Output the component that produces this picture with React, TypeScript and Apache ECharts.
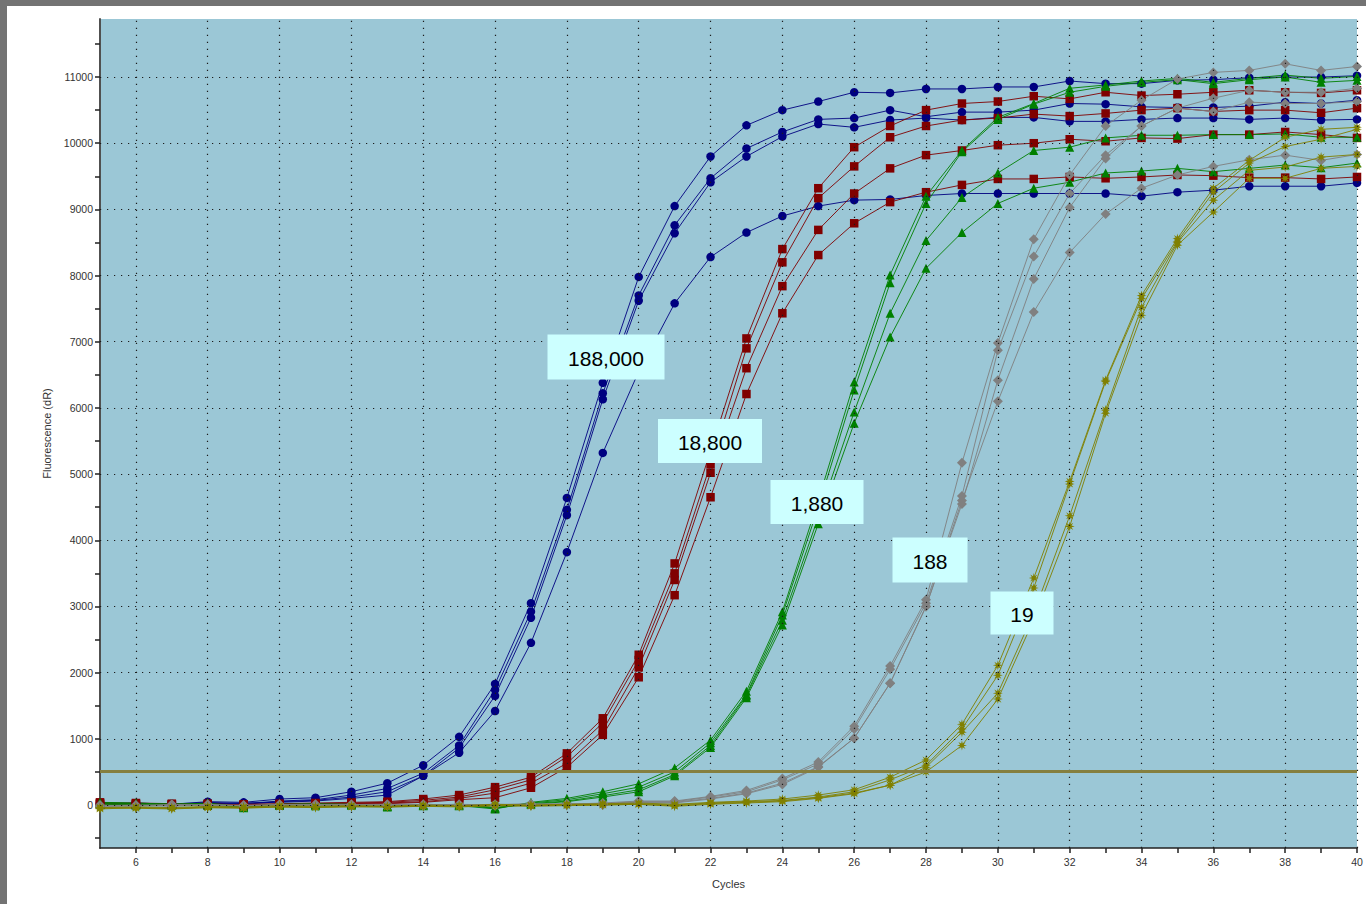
import React, { useEffect, useRef } from "react";
import * as echarts from "echarts";

// ---------- data ----------
const cycles = [
  5, 6, 7, 8, 9, 10, 11, 12, 13, 14, 15, 16, 17, 18, 19, 20, 21, 22,
  23, 24, 25, 26, 27, 28, 29, 30, 31, 32, 33, 34, 35, 36, 37, 38, 39, 40,
];

// 188,000 copies (blue)
const blue1 = [
  20, 30, 10, 50, 40, 90, 110, 200, 330,
  600, 1030, 1830, 3050, 4640, 6380, 7980, 9050, 9800,
  10270, 10500, 10630, 10770, 10760, 10820, 10820, 10850, 10850,
  10940, 10900, 10900, 10950, 10960, 10990, 11000, 11000, 11020,
];
const blue2 = [
  10, 20, 0, 40, 20, 60, 80, 150, 250,
  480, 900, 1740, 2920, 4460, 6220, 7700, 8760, 9470,
  9920, 10170, 10360, 10380, 10500, 10400, 10470, 10470, 10500,
  10600, 10590, 10550, 10540, 10540, 10560, 10620, 10600, 10650,
];
const blue3 = [
  30, 10, 20, 30, 10, 50, 70, 120, 200,
  440, 860, 1650, 2830, 4380, 6130, 7620, 8640, 9410,
  9800, 10100, 10290, 10240, 10350, 10380, 10350, 10390, 10390,
  10330, 10330, 10360, 10380, 10380, 10360, 10380, 10350, 10360,
];
const blue4 = [
  0, 20, 10, 20, 30, 40, 60, 100, 150,
  440, 790, 1420, 2450, 3820, 5320, 6550, 7580, 8280,
  8650, 8900, 9050, 9140, 9150, 9210, 9240, 9240, 9240,
  9240, 9240, 9200, 9260, 9290, 9350, 9350, 9350, 9400,
];

// 18,800 copies (red)
const red1 = [
  40, 20, 10, 0, 10, 20, 30, 40, 50,
  90, 150, 270, 420, 780, 1310, 2270, 3650, 5350,
  7050, 8400, 9320, 9940, 10260, 10500, 10600, 10630, 10710,
  10670, 10770, 10720, 10740, 10770, 10800, 10770, 10760, 10800,
];
const red2 = [
  30, 10, 0, -10, 0, 10, 20, 30, 40,
  70, 120, 230, 380, 730, 1240, 2190, 3500, 5150,
  6900, 8200, 9170, 9650, 10090, 10260, 10350, 10380, 10440,
  10410, 10450, 10500, 10530, 10480, 10500, 10500, 10460, 10530,
];
const red3 = [
  20, 30, 20, 10, -10, 0, 10, 20, 30,
  50, 100, 180, 330, 630, 1130, 2080, 3400, 5020,
  6600, 7840, 8690, 9240, 9620, 9820, 9890, 9970, 10000,
  10060, 10030, 10080, 10070, 10130, 10130, 10170, 10130, 10080,
];
const red4 = [
  10, 0, 10, 20, 0, -10, 0, 10, 20,
  40, 80, 110, 260, 570, 1060, 1930, 3170, 4650,
  6210, 7430, 8310, 8790, 9110, 9260, 9370, 9460, 9460,
  9490, 9470, 9490, 9520, 9510, 9480, 9480, 9460, 9490,
];

// 1,880 copies (green)
const green1 = [
  40, 30, 10, 20, -40, 10, 20, 10, -30,
  0, -10, -60, 40, 100, 200, 320, 560, 980,
  1720, 2920, 4600, 6390, 8010, 9200, 9890, 10390, 10600,
  10830, 10880, 10940, 10980, 10920, 10980, 11030, 10980, 11010,
];
const green2 = [
  30, 20, 0, 30, -30, 0, 10, 0, -20,
  10, 0, -50, 30, 80, 170, 270, 500, 940,
  1670, 2870, 4500, 6270, 7890, 9090, 9870, 10360, 10590,
  10770, 10860, 10920, 10960, 10900, 10960, 11000, 10920, 10950,
];
const green3 = [
  20, 10, 20, 10, -20, 10, 0, 10, -10,
  0, 10, -40, 20, 60, 140, 230, 460, 900,
  1650, 2790, 4350, 5940, 7430, 8530, 9180, 9550, 9890,
  9940, 10080, 10120, 10120, 10130, 10130, 10140, 10090, 10090,
];
const green4 = [
  10, 0, 10, 0, -30, 0, -10, 0, -20,
  -10, 0, -40, 10, 50, 120, 200, 440, 870,
  1620, 2720, 4250, 5770, 7070, 8110, 8650, 9090, 9320,
  9410, 9550, 9580, 9620, 9570, 9620, 9670, 9630, 9700,
];

// 188 copies (gray)
const gray1 = [
  -20, -10, 10, 0, -20, 0, 10, -10, 0,
  -10, 10, 0, 20, 10, 30, 60, 60, 130,
  220, 400, 650, 1190, 2100, 3100, 5170, 6980, 8550,
  9520, 10260, 10650, 10970, 11070, 11100, 11200, 11100, 11160,
];
const gray2 = [
  -10, 0, -10, 10, -10, 10, 0, 0, 10,
  0, 0, 10, 10, 20, 20, 50, 50, 120,
  200, 380, 620, 1150, 2050, 3050, 4670, 6870, 8290,
  9240, 9820, 10260, 10530, 10680, 10800, 10770, 10770, 10830,
];
const gray3 = [
  0, -20, 0, -10, 0, -10, 0, 10, -10,
  10, 0, -10, 0, 0, 10, 40, 40, 100,
  180, 330, 580, 1010, 1840, 3000, 4550, 6420, 7950,
  9030, 9770, 10260, 10530, 10480, 10620, 10600, 10600, 10630,
];
const gray4 = [
  -30, -10, -20, 0, -10, 0, -10, 0, 0,
  -10, -10, 0, 0, 10, 0, 30, 30, 90,
  170, 310, 570, 1010, 1840, 3000, 4600, 6100, 7450,
  8350, 8930, 9320, 9520, 9650, 9750, 9820, 9740, 9830,
];

// 19 copies (olive)
const olive1 = [
  -40, -30, -40, -20, -30, -10, -20, -10, -20,
  0, -10, 10, 0, 10, 20, 30, 10, 40,
  60, 90, 150, 230, 420, 680, 1220, 2110, 3430,
  4890, 6420, 7700, 8560, 9320, 9740, 10090, 10210, 10240,
];
const olive2 = [
  -50, -40, -50, -30, -40, -20, -30, -20, -20,
  -10, -20, 0, -10, 0, 10, 20, 0, 30,
  50, 70, 120, 200, 380, 600, 1150, 1960, 3280,
  4850, 6400, 7650, 8520, 9260, 9700, 9950, 10060, 10210,
];
const olive3 = [
  -60, -40, -50, -40, -40, -30, -30, -20, -30,
  -20, -20, -10, -10, 0, 0, 10, -10, 20,
  40, 60, 110, 180, 300, 570, 1100, 1690, 2900,
  4370, 5970, 7520, 8500, 9140, 9590, 9640, 9790, 9830,
];
const olive4 = [
  -40, -50, -60, -40, -50, -30, -40, -30, -30,
  -20, -30, -10, -20, -10, 0, 10, -20, 10,
  30, 50, 100, 170, 300, 500, 900, 1600, 2800,
  4210, 5920, 7400, 8460, 8960, 9470, 9470, 9620, 9650,
];

const threshold = 515;

const xTickValues = [
  6, 7, 8, 9, 10, 11, 12, 13, 14, 15, 16, 17, 18, 19, 20, 21, 22, 23,
  24, 25, 26, 27, 28, 29, 30, 31, 32, 33, 34, 35, 36, 37, 38, 39, 40,
];
const xLabelValues = [
  6, 8, 10, 12, 14, 16, 18, 20, 22, 24, 26, 28, 30, 32, 34, 36, 38, 40,
];
const yTickValues = [
  -500, 0, 500, 1000, 1500, 2000, 2500, 3000, 3500, 4000, 4500, 5000,
  5500, 6000, 6500, 7000, 7500, 8000, 8500, 9000, 9500, 10000, 10500,
  11000, 11500,
];
const yLabelValues = [
  0, 1000, 2000, 3000, 4000, 5000, 6000, 7000, 8000, 9000, 10000, 11000,
];

const groupLabels = ["188,000", "18,800", "1,880", "188", "19"];

// ---------- styling / layout ----------
const STAR =
  "path://M10,0L11.53,6.3L17.07,2.93L13.7,8.47L20,10L13.7,11.53L17.07,17.07L11.53,13.7L10,20L8.47,13.7L2.93,17.07L6.3,11.53L0,10L6.3,8.47L2.93,2.93L8.47,6.3Z";

const groups = [
  { color: "#000080", symbol: "circle", size: 8.5, curves: [blue1, blue2, blue3, blue4] },
  { color: "#800000", symbol: "rect", size: 8.5, curves: [red1, red2, red3, red4] },
  { color: "#008000", symbol: "triangle", size: 9, curves: [green1, green2, green3, green4] },
  { color: "#808080", symbol: "diamond", size: 10, curves: [gray1, gray2, gray3, gray4] },
  { color: "#808000", symbol: STAR, size: 10, curves: [olive1, olive2, olive3, olive4] },
];

const labelBoxes = [
  { cx: 606, cy: 357, w: 117, h: 45 },
  { cx: 710, cy: 441, w: 104, h: 44 },
  { cx: 817, cy: 502, w: 93, h: 44 },
  { cx: 930, cy: 560, w: 75, h: 45 },
  { cx: 1022, cy: 613, w: 63, h: 43 },
];

const FONT = "'Liberation Sans', Arial, sans-serif";

export default function App() {
  const ref = useRef<HTMLDivElement>(null);

  useEffect(() => {
    if (!ref.current) return;
    const chart = echarts.init(ref.current, null, { renderer: "svg" });

    const series: any[] = [];

    // gridlines through the axes' own scales
    series.push({
      type: "line",
      name: "grid",
      data: [],
      silent: true,
      z: 1,
      markLine: {
        silent: true,
        animation: false,
        symbol: ["none", "none"],
        label: { show: false },
        lineStyle: { color: "#1c1c1c", width: 1.2, type: [1.2, 5.8] },
        emphasis: { disabled: true },
        data: [
          ...xLabelValues.map((v) => ({ xAxis: v })),
          ...yLabelValues.map((v) => ({ yAxis: v })),
        ],
      },
    });

    groups.forEach((g, gi) => {
      g.curves.forEach((curve, ci) => {
        series.push({
          type: "line",
          name: groupLabels[gi] + "-" + ci,
          data: cycles.map((c, i) => [c, curve[i]]),
          symbol: g.symbol,
          symbolSize: g.size,
          showSymbol: true,
          showAllSymbol: true,
          silent: true,
          z: 3,
          lineStyle: { color: g.color, width: 1, opacity: 0.9 },
          itemStyle: { color: g.color },
        });
      });
    });

    // threshold line
    series.push({
      type: "line",
      name: "threshold",
      data: [],
      silent: true,
      z: 4,
      markLine: {
        silent: true,
        animation: false,
        symbol: ["none", "none"],
        label: { show: false },
        lineStyle: { color: "#857F3F", width: 3, type: "solid" },
        emphasis: { disabled: true },
        data: [{ yAxis: threshold }],
      },
    });

    const graphic: any[] = [];
    labelBoxes.forEach((b, i) => {
      graphic.push({
        type: "rect",
        z: 100,
        zlevel: 0,
        silent: true,
        shape: { x: b.cx - b.w / 2, y: b.cy - b.h / 2, width: b.w, height: b.h },
        style: { fill: "#CCFFFF" },
      });
      graphic.push({
        type: "text",
        z: 101,
        zlevel: 0,
        silent: true,
        x: b.cx,
        y: b.cy + 1,
        style: {
          text: groupLabels[i],
          fill: "#000",
          font: `21px ${FONT}`,
          textAlign: "center",
          textVerticalAlign: "middle",
        },
      });
    });

    chart.setOption({
      animation: false,
      backgroundColor: "transparent",
      grid: {
        left: 100,
        top: 19,
        width: 1257,
        height: 829,
        show: true,
        backgroundColor: "#9BC7D6",
        borderWidth: 0,
        containLabel: false,
      },
      xAxis: {
        type: "value",
        min: 5,
        max: 40,
        minInterval: 2,
        maxInterval: 2,
        name: "Cycles",
        nameLocation: "middle",
        nameGap: 30,
        nameTextStyle: { color: "#333", fontSize: 11, fontFamily: FONT },
        axisLine: { show: true, onZero: false, lineStyle: { color: "#222", width: 1.5 } },
        axisTick: {
          show: true,
          customValues: xTickValues,
          length: 5,
          lineStyle: { color: "#222", width: 1.5 },
        },
        axisLabel: {
          customValues: xLabelValues,
          color: "#333",
          fontSize: 10.5,
          fontFamily: FONT,
          margin: 8,
          formatter: (v: number) => String(v),
        },
        splitLine: { show: false },
      },
      yAxis: {
        type: "value",
        min: -650,
        max: 11877,
        minInterval: 1000,
        maxInterval: 1000,
        name: "Fluorescence (dR)",
        nameLocation: "middle",
        nameGap: 46,
        nameTextStyle: { color: "#333", fontSize: 11, fontFamily: FONT },
        axisLine: { show: true, onZero: false, lineStyle: { color: "#505050", width: 2 } },
        axisTick: {
          show: true,
          customValues: yTickValues,
          length: 5,
          lineStyle: { color: "#222", width: 1.5 },
        },
        axisLabel: {
          customValues: yLabelValues,
          color: "#333",
          fontSize: 10.5,
          fontFamily: FONT,
          margin: 7,
          formatter: (v: number) => String(v),
        },
        splitLine: { show: false },
      },
      series,
      graphic: { elements: graphic },
    });

    return () => chart.dispose();
  }, []);

  return (
    <div
      style={{
        position: "fixed",
        left: 0,
        top: 0,
        width: 1366,
        height: 904,
        background: "#737373",
        overflow: "hidden",
      }}
    >
      <div
        style={{
          position: "absolute",
          left: 7,
          top: 6,
          right: 0,
          bottom: 0,
          background: "#ffffff",
        }}
      />
      <div
        ref={ref}
        style={{ position: "absolute", left: 0, top: 0, width: 1366, height: 904 }}
      />
    </div>
  );
}
